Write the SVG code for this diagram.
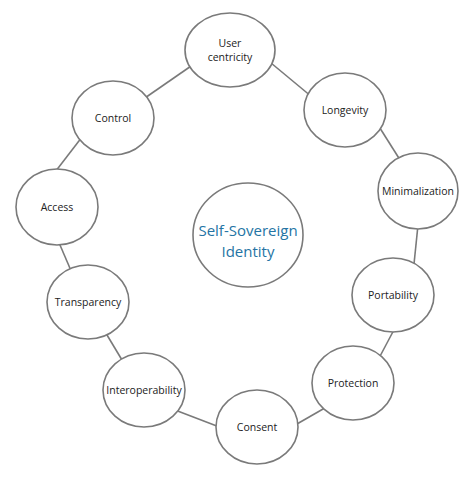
<svg xmlns="http://www.w3.org/2000/svg" width="474" height="479" viewBox="0 0 474 479">
<style>
.n{fill:#fff;stroke:#7a7a7a;stroke-width:1.6}
.l{stroke:#7a7a7a;stroke-width:1.6;fill:none}
.t{font-family:"Open Sans","Noto Sans",sans-serif;font-size:10.5px;fill:#222;text-anchor:middle}
.c{font-family:"Open Sans","Noto Sans",sans-serif;font-size:15px;fill:#2474a4;text-anchor:middle}
</style>
<rect width="474" height="479" fill="#fff"/>
<g id="connectors">
<line class="l" x1="265" y1="58" x2="312" y2="97"/>
<line class="l" x1="378" y1="125" x2="402" y2="163"/>
<line class="l" x1="418" y1="225" x2="414" y2="264"/>
<line class="l" x1="396" y1="326" x2="378" y2="360"/>
<line class="l" x1="330" y1="405" x2="290" y2="428"/>
<line class="l" x1="222" y1="428" x2="175" y2="410"/>
<line class="l" x1="104" y1="330" x2="125" y2="365"/>
<line class="l" x1="57" y1="238" x2="72" y2="273"/>
<line class="l" x1="82" y1="137" x2="52" y2="176"/>
<line class="l" x1="142" y1="100" x2="194" y2="64"/>
</g>
<g id="ssi"><ellipse class="n" cx="248" cy="235" rx="55" ry="52"/><text class="c" x="248" y="236">Self-Sovereign</text><text class="c" x="248" y="257">Identity</text></g>
<g id="user"><ellipse class="n" cx="230" cy="50" rx="45" ry="37"/><text class="t" x="230" y="47">User</text><text class="t" x="230" y="61">centricity</text></g>
<g id="longevity"><ellipse class="n" cx="345" cy="110" rx="41" ry="37"/><text class="t" x="345" y="114">Longevity</text></g>
<g id="minimalization"><ellipse class="n" cx="418" cy="191" rx="40" ry="38"/><text class="t" x="418" y="195">Minimalization</text></g>
<g id="portability"><ellipse class="n" cx="393" cy="295" rx="41" ry="37"/><text class="t" x="393" y="299">Portability</text></g>
<g id="protection"><ellipse class="n" cx="353" cy="383" rx="41" ry="37"/><text class="t" x="353" y="387">Protection</text></g>
<g id="consent"><ellipse class="n" cx="257" cy="427" rx="41" ry="37"/><text class="t" x="257" y="431">Consent</text></g>
<g id="interoperability"><ellipse class="n" cx="144" cy="390" rx="41" ry="37"/><text class="t" x="144" y="394">Interoperability</text></g>
<g id="transparency"><ellipse class="n" cx="88" cy="302" rx="41" ry="37"/><text class="t" x="88" y="306">Transparency</text></g>
<g id="access"><ellipse class="n" cx="57" cy="207" rx="41" ry="38"/><text class="t" x="57" y="211">Access</text></g>
<g id="control"><ellipse class="n" cx="113" cy="118" rx="41" ry="37"/><text class="t" x="113" y="122">Control</text></g>
</svg>
